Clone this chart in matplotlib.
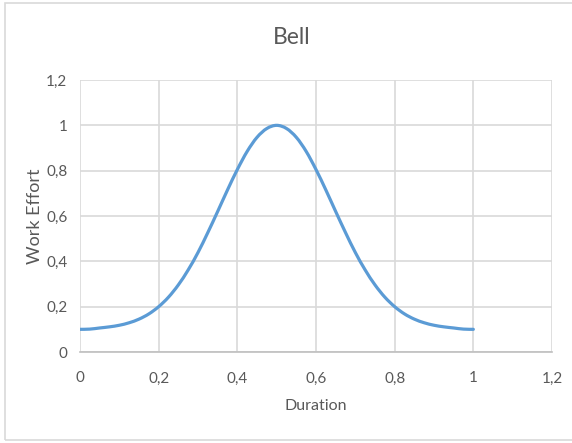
import matplotlib.pyplot as plt
import numpy as np
from matplotlib.patches import Rectangle, PathPatch
from matplotlib.path import Path
from matplotlib.ticker import FuncFormatter

# values
duration = [0, 0.025, 0.05, 0.075, 0.1, 0.125, 0.15, 0.175, 0.2, 0.225, 0.25,
            0.275, 0.3, 0.325, 0.35, 0.375, 0.4, 0.425, 0.45, 0.475, 0.5,
            0.525, 0.55, 0.575, 0.6, 0.625, 0.65, 0.675, 0.7, 0.725, 0.75,
            0.775, 0.8, 0.825, 0.85, 0.875, 0.9, 0.925, 0.95, 0.975, 1.0]
effort = [0.100, 0.101, 0.106, 0.111, 0.118, 0.129, 0.145, 0.168, 0.200, 0.242, 0.296,
          0.362, 0.439, 0.527, 0.620, 0.715, 0.805, 0.885, 0.947, 0.986, 1.000,
          0.986, 0.947, 0.885, 0.805, 0.715, 0.620, 0.527, 0.439, 0.362, 0.296,
          0.242, 0.200, 0.168, 0.145, 0.129, 0.118, 0.111, 0.106, 0.101, 0.100]
ticks = [0, 0.2, 0.4, 0.6, 0.8, 1.0, 1.2]

plt.rcParams['font.family'] = ['Lato', 'DejaVu Sans']
grey = '#595959'


def smooth_path(xs, ys):
    # Excel-like smoothed line: Catmull-Rom segments drawn as cubic Beziers
    pts = np.column_stack([xs, ys])
    verts = [pts[0]]
    codes = [Path.MOVETO]
    n = len(pts)
    for i in range(n - 1):
        p0 = pts[max(i - 1, 0)]
        p1 = pts[i]
        p2 = pts[i + 1]
        p3 = pts[min(i + 2, n - 1)]
        verts += [p1 + (p2 - p0) / 6, p2 - (p3 - p1) / 6, p2]
        codes += [Path.CURVE4] * 3
    return Path(verts, codes)


fig = plt.figure(figsize=(5.72, 4.43), dpi=100)
# outer chart frame
fig.patches.append(Rectangle((5 / 572, 3 / 443), 1.0, 437 / 443,
                             transform=fig.transFigure, fill=False,
                             edgecolor='#D9D9D9', linewidth=1.2))

ax = fig.add_axes([80 / 572, 1 - 352 / 443, 472 / 572, 272 / 443])
ax.add_patch(PathPatch(smooth_path(duration, effort), fill=False,
                       edgecolor='#5B9BD5', linewidth=2.3, capstyle='round'))

ax.set_xlim(0, 1.2)
ax.set_ylim(0, 1.2)
ax.set_xticks(ticks)
ax.set_yticks(ticks)
fmt = FuncFormatter(lambda v, p: ('%g' % round(v, 1)).replace('.', ','))
ax.xaxis.set_major_formatter(fmt)
ax.yaxis.set_major_formatter(fmt)
ax.tick_params(length=0, labelsize=11, colors=grey)
ax.tick_params(axis='x', pad=14)
ax.tick_params(axis='y', pad=9)
ax.grid(color='#D9D9D9', linewidth=1.2)
ax.set_axisbelow(True)
for s in ['top', 'right', 'left']:
    ax.spines[s].set_visible(False)
ax.spines['bottom'].set_color('#BFBFBF')
ax.spines['bottom'].set_linewidth(1.2)

fig.text(292 / 572, 1 - 38 / 443, 'Bell', fontsize=16.5, color=grey,
         ha='center', va='center')
ax.set_xlabel('Duration', fontsize=11.5, color=grey, va='center')
ax.xaxis.set_label_coords(0.5, (352 - 406) / 272)
ax.set_ylabel('Work Effort', fontsize=13, color=grey, va='center')
ax.yaxis.set_label_coords((35 - 80) / 472, 0.5)

fig.savefig('out.png', dpi=100)
